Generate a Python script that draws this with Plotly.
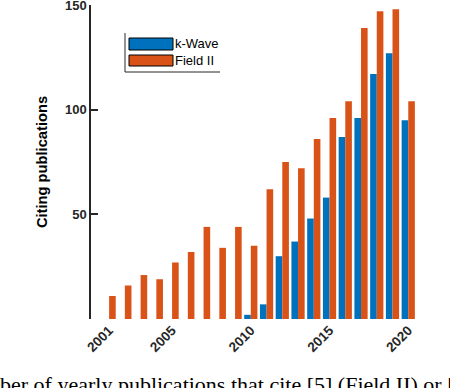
import plotly.graph_objects as go

years = list(range(2001, 2021))
kwave = [None, None, None, None, None, None, None, None, None, 2, 7, 30, 37, 48, 58, 87, 96, 117, 127, 95]
field2 = [11, 16, 21, 19, 27, 32, 44, 34, 44, 35, 62, 75, 72, 86, 96, 104, 139, 147, 148, 104]
xtick_vals = [2001, 2005, 2010, 2015, 2020]
ytick_vals = [50, 100, 150]

W, H = 450, 388
ML, MR, MT, MB = 91, 26, 5, 69
PW, PH = W - ML - MR, H - MT - MB


def px(x):
    return (x - ML) / PW


def py(y):
    return (H - MB - y) / PH


BLUE = "#0072BD"
ORANGE = "#D95319"
AX = "#262626"

fig = go.Figure()
fig.add_trace(go.Bar(x=years, y=kwave, name="k-Wave", marker_color=BLUE, marker_line_width=0))
fig.add_trace(go.Bar(x=years, y=field2, name="Field II", marker_color=ORANGE, marker_line_width=0))

shapes = []
# legend swatches and border
shapes.append(dict(type="rect", xref="paper", yref="paper", x0=px(129), x1=px(173), y0=py(50), y1=py(38),
                   fillcolor=BLUE, line=dict(color="black", width=1)))
shapes.append(dict(type="rect", xref="paper", yref="paper", x0=px(129), x1=px(173), y0=py(66), y1=py(55),
                   fillcolor=ORANGE, line=dict(color="black", width=1)))
shapes.append(dict(type="line", xref="paper", yref="paper", x0=px(125), x1=px(125), y0=py(33), y1=py(72),
                   line=dict(color=AX, width=1)))
shapes.append(dict(type="line", xref="paper", yref="paper", x0=px(125), x1=px(220), y0=py(72), y1=py(72),
                   line=dict(color=AX, width=1)))

annotations = [
    dict(text="k-Wave", xref="paper", yref="paper", x=px(173), y=py(44), xanchor="left", yanchor="middle",
         showarrow=False, font=dict(family="Liberation Sans", size=13, color="black")),
    dict(text="Field II", xref="paper", yref="paper", x=px(173), y=py(61), xanchor="left", yanchor="middle",
         showarrow=False, font=dict(family="Liberation Sans", size=13, color="black")),
    dict(text="Number of yearly publications that cite [5] (Field II) or [13] (k-Wave).",
         xref="paper", yref="paper", x=px(-46), y=py(370), xanchor="left", yanchor="top",
         showarrow=False, font=dict(family="Liberation Serif", size=22, color="black")),
]

fig.update_layout(
    width=W, height=H,
    margin=dict(l=ML, r=MR, t=MT, b=MB, autoexpand=False),
    paper_bgcolor="white", plot_bgcolor="white",
    barmode="group", bargap=0.16, bargroupgap=0,
    showlegend=False,
    shapes=shapes, annotations=annotations,
    xaxis=dict(range=[1999.85, 2021.0], tickvals=xtick_vals, ticktext=[str(v) for v in xtick_vals],
               tickangle=-45, showgrid=False, zeroline=False, showline=False, ticks="",
               tickfont=dict(family="Liberation Sans", size=13.5, color="#262626", weight="bold")),
    yaxis=dict(range=[0, 150], tickvals=[0] + ytick_vals, ticktext=[""] + [str(v) for v in ytick_vals],
               showgrid=False, zeroline=False, showline=True, linecolor=AX, linewidth=1.5,
               ticks="inside", ticklen=7, tickwidth=1.5, tickcolor=AX, ticklabeloverflow="allow",
               tickfont=dict(family="Liberation Sans", size=13, color="#262626", weight="bold"),
               title=dict(text="Citing publications", standoff=14,
                          font=dict(family="Liberation Sans", size=14.7, color="black", weight="bold"))),
)

fig.write_html("out.html", config={"displayModeBar": False},
               post_script="document.body.style.margin='0';document.body.style.overflow='hidden';")
